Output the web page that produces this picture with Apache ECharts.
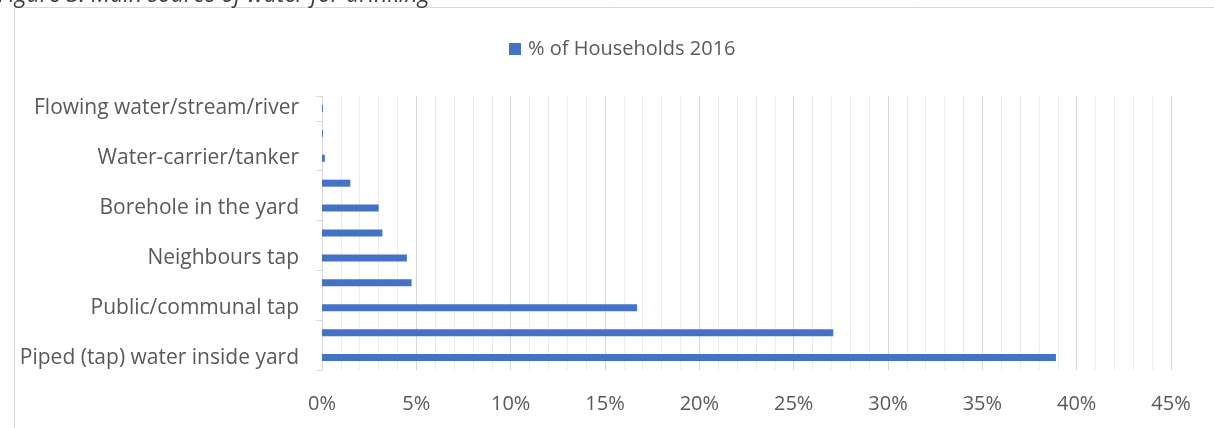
<!DOCTYPE html>
<html>
<head>
<meta charset="utf-8">
<script src="https://cdn.jsdelivr.net/npm/echarts@6/dist/echarts.min.js"></script>
<style>
  html, body { margin: 0; padding: 0; background: #fff; }
  #chart { width: 1214px; height: 428px; }
</style>
</head>
<body>
<div id="chart"></div>
<script>
// Main source of drinking water, share of households (bottom to top)
const categories = [
  'Piped (tap) water inside yard',
  'Piped (tap) water inside the dwelling',
  'Public/communal tap',
  'Borehole outside the yard',
  'Neighbours tap',
  'Other',
  'Borehole in the yard',
  'Rain-water tank in yard',
  'Water-carrier/tanker',
  'Spring',
  'Flowing water/stream/river'
];
const households2016 = [38.9, 27.1, 16.7, 4.75, 4.5, 3.2, 3.0, 1.5, 0.15, 0.05, 0.05];
const seriesName = '% of Households 2016';
const figureTitle = 'Figure 3: Main source of water for drinking';

const chart = echarts.init(document.getElementById('chart'), null, { renderer: 'canvas' });
const FONT = '"Open Sans", "Noto Sans", sans-serif';
const LABEL_SIZE = 20;

chart.setOption({
  animation: false,
  textStyle: { fontFamily: FONT },
  graphic: [
    {
      type: 'rect',
      shape: { x: 14.5, y: 7.5, width: 1240, height: 460 },
      style: { fill: 'none', stroke: '#d9d9d9', lineWidth: 1 },
      silent: true
    },
    {
      type: 'text',
      left: -2,
      top: -16,
      style: {
        text: figureTitle,
        font: 'italic 23px ' + FONT,
        fill: '#404040'
      },
      silent: true
    }
  ],
  legend: {
    left: 504,
    top: 34,
    itemWidth: 12,
    itemHeight: 12,
    itemGap: 10,
    icon: 'rect',
    textStyle: { fontSize: LABEL_SIZE, color: '#595959', padding: [0, 0, 0, 2] },
    data: [seriesName]
  },
  grid: { left: 322, right: 43, top: 96, bottom: 58, containLabel: false },
  xAxis: {
    type: 'value',
    min: 0,
    max: 45,
    interval: 5,
    axisLine: { show: false },
    axisTick: { show: false },
    axisLabel: {
      formatter: '{value}%',
      fontSize: LABEL_SIZE,
      color: '#595959',
      margin: 24
    },
    splitLine: { show: true, lineStyle: { color: '#d9d9d9', width: 1 } },
    minorTick: { show: false, splitNumber: 5 },
    minorSplitLine: { show: true, lineStyle: { color: '#ededed', width: 1 } }
  },
  yAxis: {
    type: 'category',
    data: categories,
    axisLine: { show: true, lineStyle: { color: '#d9d9d9', width: 1 } },
    axisTick: { show: true, length: 6, lineStyle: { color: '#d9d9d9' } },
    axisLabel: {
      interval: 1,
      fontSize: 21,
      color: '#595959',
      margin: 23
    },
    splitLine: { show: false }
  },
  series: [
    {
      name: seriesName,
      type: 'bar',
      data: households2016,
      barWidth: 7,
      itemStyle: { color: '#4472c4' }
    }
  ]
});
</script>
</body>
</html>
